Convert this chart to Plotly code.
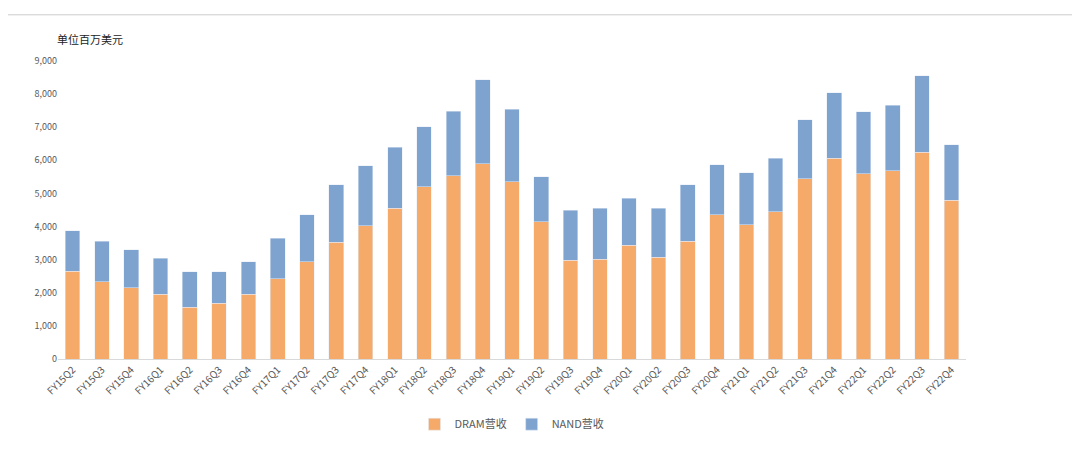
import plotly.graph_objects as go

quarters = ["FY15Q2","FY15Q3","FY15Q4","FY16Q1","FY16Q2","FY16Q3","FY16Q4",
            "FY17Q1","FY17Q2","FY17Q3","FY17Q4","FY18Q1","FY18Q2","FY18Q3","FY18Q4",
            "FY19Q1","FY19Q2","FY19Q3","FY19Q4","FY20Q1","FY20Q2","FY20Q3","FY20Q4",
            "FY21Q1","FY21Q2","FY21Q3","FY21Q4","FY22Q1","FY22Q2","FY22Q3","FY22Q4"]
dram = [2650,2330,2150,1960,1570,1690,1960,2420,2930,3530,4020,4560,5200,5530,5890,
        5350,4140,2990,3020,3440,3080,3560,4350,4050,4440,5440,6070,5590,5680,6250,4800]
total = [3870,3560,3300,3050,2630,2630,2930,3650,4350,5260,5830,6400,7010,7490,8430,
         7550,5500,4500,4560,4860,4560,5260,5860,5620,6070,7220,8040,7460,7670,8550,6470]
nand = [t - d for t, d in zip(total, dram)]

fig = go.Figure()
fig.add_bar(x=quarters, y=dram, name="DRAM营收", marker_color="#F5AA6A", width=0.5)
fig.add_bar(x=quarters, y=nand, name="NAND营收", marker_color="#7FA3CF", width=0.5)

fig.update_layout(
    barmode="stack",
    width=1080, height=457,
    paper_bgcolor="white", plot_bgcolor="white",
    font=dict(family="Noto Sans CJK SC", size=10, color="#595959"),
    margin=dict(l=50, r=122, t=53, b=106, autoexpand=False),
    legend=dict(orientation="h", x=0.5, xanchor="center", y=-0.17, yanchor="top",
                traceorder="normal", font=dict(size=11)),
    annotations=[dict(text="单位百万美元", xref="paper", yref="paper", x=-0.003, y=1.04,
                      xanchor="left", yanchor="bottom", showarrow=False,
                      font=dict(size=11, color="#222"))],
    shapes=[dict(type="line", xref="paper", yref="paper", x0=-0.06, x1=1.12,
                 y0=1.155, y1=1.155, line=dict(color="#ccc", width=1))],
)
fig.update_xaxes(tickangle=-45, showline=True, linecolor="#d9d9d9", ticks="",
                 tickfont=dict(size=10))
fig.update_yaxes(range=[0, 9000], dtick=1000, tickformat=",", showgrid=False,
                 zeroline=False, tickfont=dict(size=9))

fig.write_html("out.html")
